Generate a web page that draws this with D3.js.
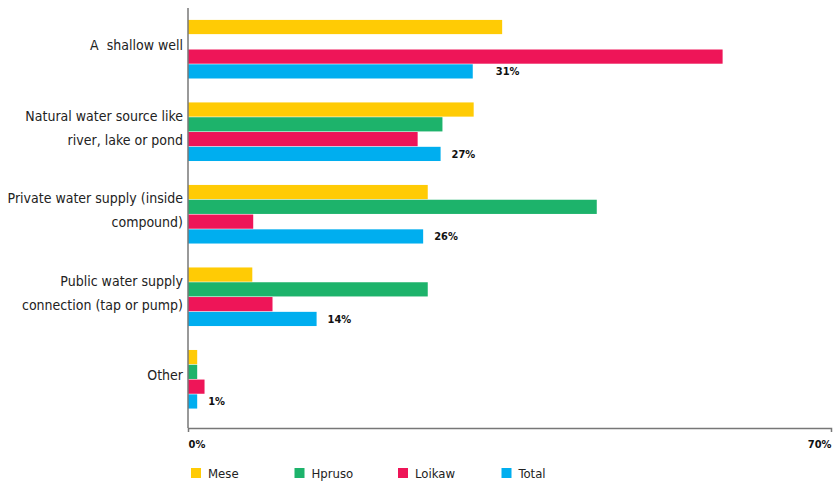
<!DOCTYPE html>
<html>
<head>
<meta charset="utf-8">
<script src="https://cdn.jsdelivr.net/npm/d3@7"></script>
<style>
    body { margin: 0; background: #fff; }
    text { font-family: "Liberation Sans Narrow", "DejaVu Sans", sans-serif; font-stretch: condensed; }
</style>
</head>
<body>
<div id="chart"></div>
<script>
// ***** DATA *****
var categories = [
    ["A  shallow well"],
    ["Natural water source like", "river, lake or pond"],
    ["Private water supply (inside", "compound)"],
    ["Public water supply", "connection (tap or pump)"],
    ["Other"]
];
var seriesNames = ["Mese", "Hpruso", "Loikaw", "Total"];
var mese   = [34.2, 31.1, 26.1, 7.0, 1.0];
var hpruso = [0, 27.7, 44.5, 26.1, 1.0];
var loikaw = [58.2, 25.0, 7.1, 9.2, 1.8];
var total  = [31, 27.5, 25.6, 14, 1];
var totalLabels = ["31%", "27%", "26%", "14%", "1%"];
var tickValues = [0, 70];
var colors = ["#FFCB05", "#1DB36B", "#EE1558", "#00AEEF"];

drawChart();

function drawChart() {
    var width = 833, height = 485;
    var mLeft = 188, mRight = 831, mTop = 8, mBottom = 428;

    var svg = d3.select("#chart")
        .append("svg")
        .attr("width", width)
        .attr("height", height);

    var x = d3.scaleLinear()
        .domain([0, 70])
        .range([mLeft, mRight]);

    var y0 = d3.scaleBand()
        .domain(d3.range(categories.length))
        .range([mTop, mBottom])
        .paddingInner(0.29)
        .paddingOuter(0.19)
        .align(0.38);

    var y1 = d3.scaleBand()
        .domain(seriesNames)
        .range([0, y0.bandwidth()])
        .paddingInner(0.04);

    var color = d3.scaleOrdinal()
        .domain(seriesNames)
        .range(colors);

    var rows = categories.map(function(c, i) {
        return { idx: i, lines: c, values: [mese[i], hpruso[i], loikaw[i], total[i]] };
    });

    // ***** BARS *****
    var group = svg.selectAll(".group")
        .data(rows)
        .enter()
        .append("g")
        .attr("class", "group")
        .attr("transform", function(d) { return "translate(0," + y0(d.idx) + ")"; });

    group.selectAll("rect")
        .data(function(d) {
            return d.values.map(function(v, j) { return { name: seriesNames[j], value: v }; });
        })
        .enter()
        .append("rect")
        .attr("x", x(0))
        .attr("y", function(d) { return y1(d.name); })
        .attr("width", function(d) { return x(d.value) - x(0); })
        .attr("height", y1.bandwidth())
        .attr("fill", function(d) { return color(d.name); });

    // total value labels
    group.append("text")
        .attr("x", function(d) { return x(d.values[3]) + (d.idx === 0 ? 23 : 11); })
        .attr("y", y1("Total") + y1.bandwidth() / 2 + 4)
        .attr("font-size", 11)
        .attr("font-weight", "bold")
        .attr("fill", "#111")
        .text(function(d) { return totalLabels[d.idx]; });

    // category labels
    group.each(function(d) {
        var g = d3.select(this);
        var mid = y0.bandwidth() / 2 - 4;
        var lh = 24;
        var start = mid - (d.lines.length - 1) * lh / 2;
        d.lines.forEach(function(line, k) {
            g.append("text")
                .attr("x", mLeft - 5)
                .attr("y", start + k * lh + 5)
                .attr("text-anchor", "end")
                .attr("font-size", 14)
                .attr("fill", "#222")
                .style("white-space", "pre")
                .text(line);
        });
    });

    // ***** AXES *****
    svg.append("line")
        .attr("x1", mLeft).attr("x2", mLeft)
        .attr("y1", mTop).attr("y2", mBottom)
        .attr("stroke", "#777").attr("stroke-width", 1.5);

    var xAxis = svg.append("g")
        .attr("transform", "translate(0," + mBottom + ")")
        .call(d3.axisBottom(x).tickValues(tickValues).tickSize(4)
            .tickFormat(function(d) { return d + "%"; }));

    xAxis.select(".domain").attr("stroke", "#777").attr("stroke-width", 1.5);
    xAxis.selectAll(".tick line").attr("stroke", "#777");
    xAxis.selectAll(".tick text")
        .attr("y", 12)
        .attr("font-size", 11)
        .attr("font-weight", "bold")
        .attr("fill", "#111")
        .attr("text-anchor", function(d) { return d === 0 ? "start" : "end"; });

    // ***** LEGEND *****
    var legend = svg.selectAll(".legend")
        .data(seriesNames)
        .enter()
        .append("g")
        .attr("class", "legend")
        .attr("transform", function(d, i) { return "translate(" + (191 + i * 103.5) + ",468)"; });

    legend.append("rect")
        .attr("width", 10)
        .attr("height", 10)
        .attr("fill", function(d) { return color(d); });

    legend.append("text")
        .attr("x", 17)
        .attr("y", 10)
        .attr("font-size", 13)
        .attr("fill", "#222")
        .text(function(d) { return d; });
}
</script>
</body>
</html>
